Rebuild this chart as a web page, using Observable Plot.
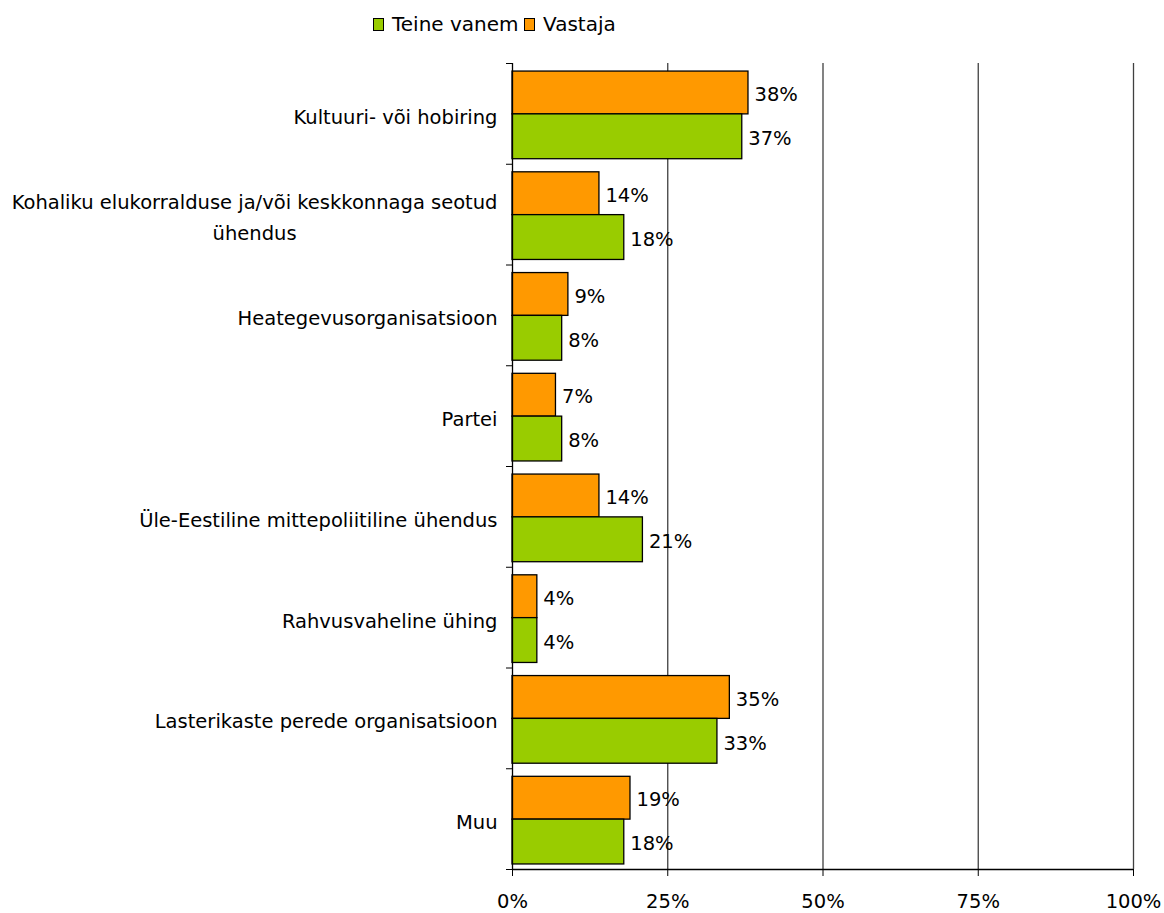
<!DOCTYPE html>
<html>
<head>
<meta charset="utf-8">
<script src="https://cdn.jsdelivr.net/npm/d3@7"></script>
<script src="https://cdn.jsdelivr.net/npm/@observablehq/plot@0.6"></script>
<style>
  html, body { margin: 0; padding: 0; background: #fff; }
  body { width: 1164px; height: 913px; overflow: hidden; font-family: Tahoma, "DejaVu Sans", sans-serif; }
  #legend { height: 50px; position: relative; font-size: 20px; color: #000; }
  #legend .item { position: absolute; top: 12px; display: flex; align-items: center; }
  #legend .sw { width: 9px; height: 11px; border: 1px solid #000; margin-right: 8px; }
</style>
</head>
<body>
<div id="legend"></div>
<div id="chart"></div>
<script>
const categories = [
  "Kultuuri- või hobiring",
  "Kohaliku elukorralduse ja/või keskkonnaga seotud ühendus",
  "Heategevusorganisatsioon",
  "Partei",
  "Üle-Eestiline mittepoliitiline ühendus",
  "Rahvusvaheline ühing",
  "Lasterikaste perede organisatsioon",
  "Muu"
];
const categoryLabels = [
  "Kultuuri- või hobiring",
  "Kohaliku elukorralduse ja/või keskkonnaga seotud\nühendus",
  "Heategevusorganisatsioon",
  "Partei",
  "Üle-Eestiline mittepoliitiline ühendus",
  "Rahvusvaheline ühing",
  "Lasterikaste perede organisatsioon",
  "Muu"
];
const seriesNames = ["Vastaja", "Teine vanem"];
const vastaja = [38, 14, 9, 7, 14, 4, 35, 19];
const teineVanem = [37, 18, 8, 8, 21, 4, 33, 18];
const seriesColors = {"Vastaja": "#FF9900", "Teine vanem": "#99CC00"};
const xTicks = [0, 25, 50, 75, 100];

// slot offsets within a category band (band = 1 unit)
const slot = {"Vastaja": [0.08, 0.505], "Teine vanem": [0.505, 0.95]};

const rows = [];
categories.forEach((c, i) => {
  rows.push({cat: c, i, series: "Vastaja", value: vastaja[i]});
  rows.push({cat: c, i, series: "Teine vanem", value: teineVanem[i]});
});

const font = 'Tahoma, "DejaVu Sans", sans-serif';

const plot = Plot.plot({
  width: 1164,
  height: 863,
  marginLeft: 512,
  marginRight: 31,
  marginTop: 13,
  marginBottom: 44,
  style: {fontFamily: font, fontSize: "19.5px", color: "#000", background: "#fff"},
  x: {domain: [0, 100]},
  y: {domain: [0, categories.length], reverse: true},
  color: {domain: Object.keys(seriesColors), range: Object.values(seriesColors)},
  marks: [
    Plot.gridX(xTicks.slice(1), {stroke: "#404040", strokeOpacity: 1, strokeWidth: 1.3}),
    Plot.rectX(rows, {
      x1: 0, x2: "value",
      y1: d => d.i + slot[d.series][0],
      y2: d => d.i + slot[d.series][1],
      fill: "series", stroke: "#000", strokeWidth: 1.3
    }),
    Plot.text(rows, {
      x: "value",
      y: d => d.i + (slot[d.series][0] + slot[d.series][1]) / 2,
      text: d => d.value + "%",
      textAnchor: "start", dx: 6, dy: 2, fill: "#000", fontSize: 19.5
    }),
    Plot.ruleX([0], {stroke: "#000", strokeWidth: 1.3}),
    Plot.ruleY([categories.length], {stroke: "#000", strokeWidth: 1.3}),
    Plot.axisY(d3.range(0, categories.length + 1), {tickSize: 6, tickFormat: () => "", stroke: "#000"}),
    Plot.text(categoryLabels, {
      x: 0, y: (d, i) => i + 0.5, text: d => d,
      textAnchor: "end", dx: -15, fill: "#000", fontSize: 19.5, lineHeight: 1.6
    }),
    Plot.axisX(xTicks, {tickSize: 7, tickPadding: 18, tickFormat: d => d + "%", label: null, fontSize: 19.5})
  ]
});
document.getElementById("chart").appendChild(plot);

// center-align multi-line category labels (right edge kept at the anchor)
plot.querySelectorAll("text").forEach(t => {
  const tspans = t.querySelectorAll("tspan");
  if (tspans.length > 1) {
    const w = t.getBBox().width;
    t.setAttribute("text-anchor", "middle");
    const tr = t.getAttribute("transform") || "";
    t.setAttribute("transform", tr + ` translate(${-w / 2},0)`);
  }
});

// legend
const legend = document.getElementById("legend");
const legendItems = [["Teine vanem", 373], ["Vastaja", 524]];
legendItems.forEach(([name, left]) => {
  const it = document.createElement("div");
  it.className = "item";
  it.style.left = left + "px";
  const sw = document.createElement("div");
  sw.className = "sw";
  sw.style.background = seriesColors[name];
  const lb = document.createElement("span");
  lb.textContent = name;
  it.appendChild(sw); it.appendChild(lb);
  legend.appendChild(it);
});
</script>
</body>
</html>
